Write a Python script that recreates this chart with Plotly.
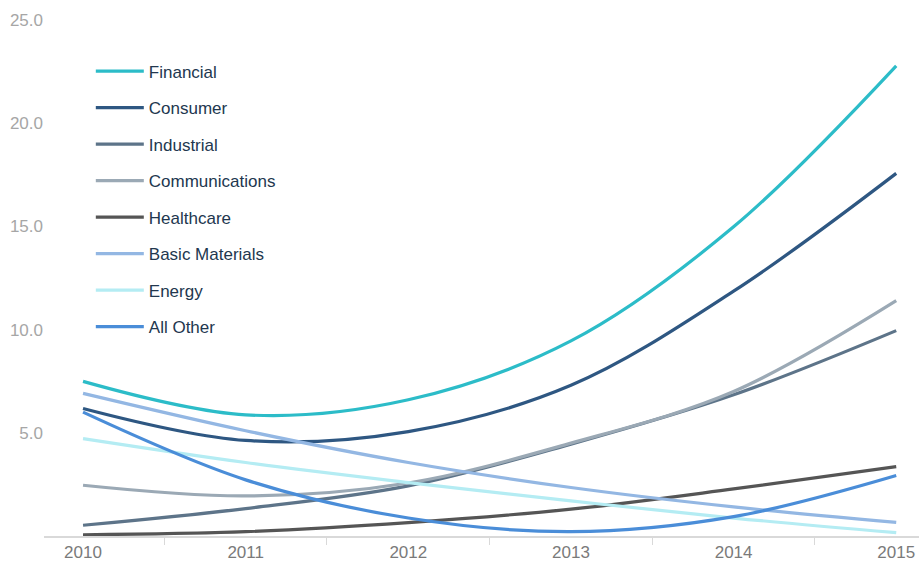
import plotly.graph_objects as go

years = [2010, 2011, 2012, 2013, 2014, 2015]
sectors = ["Financial", "Consumer", "Industrial", "Communications",
           "Healthcare", "Basic Materials", "Energy", "All Other"]
financial = [7.49, 5.87, 6.6, 9.45, 14.98, 22.78]
consumer = [6.18, 4.63, 5.06, 7.3, 11.86, 17.57]
industrial = [0.52, 1.33, 2.43, 4.45, 6.84, 9.95]
communications = [2.46, 1.94, 2.57, 4.5, 7.0, 11.4]
healthcare = [0.06, 0.21, 0.65, 1.3, 2.28, 3.36]
basic_materials = [6.91, 5.1, 3.56, 2.35, 1.41, 0.66]
energy = [4.72, 3.56, 2.59, 1.7, 0.87, 0.16]
all_other = [6.0, 2.72, 0.87, 0.21, 0.94, 2.93]
series = [financial, consumer, industrial, communications,
          healthcare, basic_materials, energy, all_other]
colors = ["#2cbcc8", "#2e5782", "#5d7489", "#9ba9b5",
          "#555555", "#93b7e3", "#b4ecf3", "#4a8dd8"]
y_ticks = [5, 10, 15, 20, 25]

fig = go.Figure()
for name, vals, col in zip(sectors, series, colors):
    fig.add_trace(go.Scatter(
        x=years, y=vals, name=name, mode="lines",
        line=dict(color=col, width=3.2, shape="spline", smoothing=1.0),
        legendgroup=name,
    ))

fig.update_layout(
    width=919, height=566,
    margin=dict(l=44, r=0, t=20, b=30),
    paper_bgcolor="white", plot_bgcolor="white",
    font=dict(family="Liberation Sans, Arial, sans-serif"),
    showlegend=True,
    legend=dict(
        x=0.0535, y=0.935, xanchor="left", yanchor="top",
        font=dict(size=17, color="#22374f"),
        tracegroupgap=11.4, itemwidth=48,
        bgcolor="rgba(0,0,0,0)",
    ),
    xaxis=dict(
        range=[2009.76, 2015.14],
        tickvals=years, ticktext=[str(y) for y in years],
        ticks="", showgrid=False, zeroline=False,
        showline=True, linecolor="#d9d9d9", linewidth=2,
        tickfont=dict(size=17, color="#7a7a7a"),
        minor=dict(tickvals=[2010.5, 2011.5, 2012.5, 2013.5, 2014.5],
                   ticks="outside", ticklen=7, tickcolor="#d9d9d9", tickwidth=1),
    ),
    yaxis=dict(
        range=[0, 25], tickvals=y_ticks,
        ticktext=[f"{v:.1f}" for v in y_ticks],
        showgrid=False, zeroline=False, showline=False,
        tickfont=dict(size=17, color="#a6a6a6"),
        ticks="",
    ),
)

fig.write_html("out.html")
